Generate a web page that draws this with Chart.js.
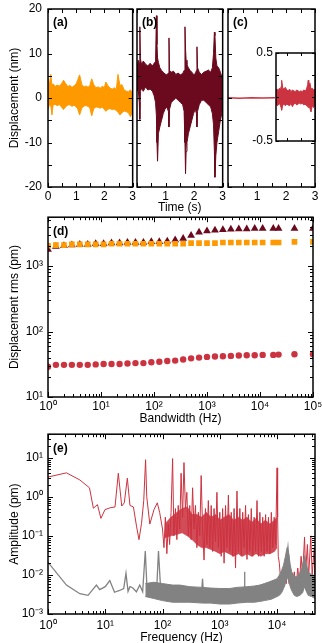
<!DOCTYPE html>
<html><head><meta charset="utf-8">
<script src="https://cdn.jsdelivr.net/npm/chart.js@4.4.1/dist/chart.umd.min.js"></script>
<style>
html,body{margin:0;padding:0;background:#fff;overflow:hidden;width:322px;height:643px;position:relative;}
canvas{position:absolute;display:block;}
</style></head><body>
<canvas id="cA" width="135" height="229" style="left:3px;top:-10px;width:135px;height:229px"></canvas>
<canvas id="cB" width="96" height="229" style="left:132px;top:-10px;width:96px;height:229px"></canvas>
<canvas id="cC" width="99" height="229" style="left:223px;top:-10px;width:99px;height:229px"></canvas>
<canvas id="cI" width="77" height="124" style="left:245px;top:35px;width:77px;height:124px"></canvas>
<canvas id="cD" width="322" height="225" style="left:3px;top:205px;width:322px;height:225px"></canvas>
<canvas id="cE" width="324" height="227" style="left:3px;top:422px;width:324px;height:227px"></canvas>
<script>
// ---------------- data ----------------
const A_TIME  = [0, 0.05, 0.1, 0.14, 0.18, 0.25, 0.32, 0.4, 0.48, 0.55, 0.62, 0.7, 0.78, 0.85, 0.92, 1.0, 1.05, 1.12, 1.2, 1.28, 1.35, 1.42, 1.48, 1.55, 1.62, 1.7, 1.78, 1.85, 1.92, 2.0, 2.05, 2.12, 2.2, 2.28, 2.35, 2.42, 2.48, 2.55, 2.62, 2.7, 2.78, 2.85, 2.92, 2.97, 3.0];
const A_UPPER = [4.5, 3.0, 5.3, 2.8, 3.2, 2.6, 2.9, 2.7, 3.2, 4.0, 3.3, 2.6, 2.8, 2.4, 2.7, 3.2, 4.0, 5.2, 3.0, 2.5, 2.7, 2.4, 2.8, 4.3, 3.0, 2.3, 2.5, 2.2, 2.6, 2.4, 3.6, 2.8, 2.2, 2.0, 2.3, 1.9, 5.3, 2.8, 3.0, 1.8, 1.5, 1.4, 1.8, 1.2, 2.0];
const A_LOWER = [-2.5, -1.5, -1.8, -3.8, -1.6, -1.4, -1.7, -1.5, -2.0, -2.6, -2.0, -1.6, -1.5, -1.9, -1.6, -2.0, -2.4, -3.8, -2.2, -1.8, -1.7, -1.9, -2.2, -4.0, -2.4, -2.0, -2.1, -2.3, -2.0, -2.6, -3.0, -2.5, -2.4, -2.6, -2.5, -2.8, -3.2, -3.8, -3.3, -2.9, -3.1, -3.3, -4.2, -3.5, -3.0];

const B_TIME  = [0, 0.04, 0.08, 0.1, 0.12, 0.16, 0.22, 0.3, 0.38, 0.46, 0.54, 0.6, 0.65, 0.68, 0.7, 0.72, 0.75, 0.8, 0.86, 0.92, 0.98, 1.04, 1.1, 1.12, 1.14, 1.2, 1.28, 1.36, 1.44, 1.52, 1.6, 1.65, 1.68, 1.7, 1.72, 1.75, 1.8, 1.86, 1.92, 1.98, 2.04, 2.08, 2.1, 2.12, 2.18, 2.26, 2.34, 2.42, 2.5, 2.58, 2.64, 2.68, 2.71, 2.73, 2.76, 2.8, 2.86, 2.92, 2.97, 3.0];
const B_UPPER = [6.5, 8.5, 7.8, 16.0, 8.8, 7.5, 8.3, 7.6, 7.2, 7.8, 7.2, 7.8, 8.2, 18.5, 12.0, 9.0, 8.0, 6.8, 6.2, 5.8, 5.4, 5.2, 5.6, 13.5, 6.2, 5.8, 6.0, 5.3, 5.6, 5.2, 5.5, 6.2, 16.0, 11.0, 8.5, 7.5, 6.8, 6.2, 5.8, 5.3, 5.4, 6.2, 11.5, 6.8, 5.8, 5.3, 5.8, 6.0, 6.3, 5.8, 6.8, 10.0, 14.8, 14.0, 9.0, 7.2, 6.8, 5.8, 4.8, 5.0];
const B_LOWER = [1.5, 2.0, -1.0, -4.8, 1.5, 2.2, 1.5, 2.5, 1.8, 2.0, 1.5, 0.5, -1.0, -4.0, -10.0, -14.2, -8.0, -6.5, -5.0, -3.5, -2.5, -2.0, -3.0, -6.5, -2.5, -1.0, -0.5, 0.0, -0.5, -1.0, -1.5, -3.0, -10.0, -17.0, -12.0, -10.0, -8.0, -6.5, -5.0, -3.5, -2.5, -3.5, -6.5, -3.0, -1.5, -0.5, -0.5, -1.0, -1.5, -2.0, -3.5, -6.0, -12.0, -17.8, -13.0, -10.0, -7.5, -5.0, -3.5, -3.0];

const C_TIME  = [0, 0.4, 0.8, 1.2, 1.62];
const C_VALUE = [0.04, -0.03, 0.05, -0.02, 0.03];

const INSET_TIME  = [1.62, 1.66, 1.7, 1.74, 1.78, 1.8, 1.82, 1.86, 1.9, 1.95, 2.0, 2.05, 2.1, 2.15, 2.2, 2.25, 2.3, 2.35, 2.4, 2.45, 2.5, 2.55, 2.6, 2.65, 2.7, 2.74, 2.76, 2.78, 2.82, 2.86, 2.9, 2.95, 3.0];
const INSET_UPPER = [0.08, 0.09, 0.07, 0.1, 0.08, 0.12, 0.19, 0.1, 0.09, 0.11, 0.08, 0.07, 0.09, 0.06, 0.08, 0.07, 0.06, 0.08, 0.07, 0.06, 0.07, 0.06, 0.08, 0.07, 0.09, 0.14, 0.19, 0.13, 0.16, 0.09, 0.1, 0.08, 0.09];
const INSET_LOWER = [-0.08, -0.1, -0.09, -0.07, -0.1, -0.12, -0.15, -0.09, -0.08, -0.1, -0.08, -0.09, -0.1, -0.07, -0.11, -0.08, -0.07, -0.09, -0.08, -0.07, -0.08, -0.07, -0.09, -0.08, -0.1, -0.11, -0.12, -0.1, -0.13, -0.17, -0.1, -0.12, -0.09];

const BANDWIDTH = [1, 1.41, 2, 2.82, 3.98, 5.62, 7.94, 11.2, 15.8, 22.4, 31.6, 44.7, 63.1, 89.1, 126, 178, 251, 355, 501, 708, 1000, 1413, 1995, 2818, 3981, 5623, 7943, 11220, 17800, 22400, 44700, 100000];
const RMS_A = [2050, 2100, 2100, 2150, 2150, 2150, 2150, 2150, 2200, 2200, 2200, 2200, 2200, 2200, 2200, 2200, 2200, 2200, 2250, 2250, 2250, 2250, 2300, 2300, 2300, 2300, 2300, 2300, 2300, 2300, 2350, 2350];
const RMS_B = [1800, 2000, 2050, 2100, 2150, 2150, 2200, 2200, 2250, 2250, 2300, 2300, 2300, 2350, 2350, 2400, 2500, 2650, 2950, 3300, 3450, 3550, 3600, 3650, 3700, 3700, 3750, 3750, 3750, 3750, 3750, 3750];
const RMS_C = [29, 31, 31, 31, 31, 31, 31.5, 32, 32, 32, 32.5, 33, 33, 34, 34.5, 35.5, 36, 37.5, 39, 40, 41, 41.5, 42, 42.5, 43, 43.5, 43.5, 44, 44, 44.5, 45, 45];

const FREQ_RED = [1, 2.1, 3.6, 5.3, 6.2, 7.3, 8.4, 9.9, 12, 14.8, 16.9, 19.4, 21.5, 24.3, 27, 31, 35.3, 38.8, 43, 47, 50.6, 53, 60, 71, 81, 89,
  100, 106, 112, 119, 126, 133, 141, 150, 158, 168, 178, 188, 200, 211, 224, 237, 251, 266, 282, 299,
  316, 335, 355, 376, 398, 422, 447, 473, 501, 531, 562, 596, 631, 668, 708, 750, 794, 841, 891, 944,
  1000, 1059, 1122, 1189, 1259, 1334, 1413, 1496, 1585, 1679, 1778, 1884, 1995, 2113, 2239, 2371, 2512, 2661, 2818, 2985,
  3162, 3350, 3548, 3758, 3981, 4217, 4467, 4732, 5012, 5309, 5623, 5957, 6310, 6683, 7079, 7499, 7943, 8414, 8913, 9441, 10000,
  10230, 10500, 10960, 11500, 12300, 13000, 13490, 14500, 15490, 16200, 17380, 18500, 20000, 21380, 23000, 24500, 26300, 28000, 30200, 31500, 33900, 35500, 38900, 41000, 44700, 46000];
const AMP_RED = [3.2, 4.1, 2.7, 1.7, 0.51, 0.63, 0.28, 0.47, 0.52, 0.55, 4.0, 0.58, 0.7, 3.0, 0.6, 0.55, 0.17, 0.08, 0.21, 0.8, 8.9, 1.0, 0.2, 0.47, 0.7, 0.4,
  0.15, 0.05, 0.3, 0.035, 0.2, 0.06, 0.4, 9.5, 0.1, 0.5, 0.08, 0.6, 0.15, 4.0, 0.3, 7.5, 0.5, 1.3, 0.1, 0.6,
  0.08, 1.7, 0.15, 0.6, 0.05, 0.4, 0.1, 3.5, 0.15, 0.024, 0.5, 0.06, 0.8, 0.05, 0.6, 0.04, 0.5, 0.07, 1.3, 0.05,
  0.4, 0.03, 0.5, 0.02, 0.6, 0.05, 1.1, 0.04, 0.4, 0.03, 0.5, 0.015, 1.4, 0.04, 0.5, 0.03, 0.4, 0.05, 0.6, 0.025,
  0.35, 0.04, 0.5, 0.03, 0.3, 0.04, 0.8, 0.03, 0.4, 0.04, 0.3, 0.03, 0.35, 0.04, 0.3, 0.035, 0.4, 0.05, 0.3, 0.06, 5.5,
  0.3, 0.03, 0.02, 0.008, 0.012, 0.005, 0.008, 0.006, 0.02, 0.006, 0.01, 0.005, 0.012, 0.0045, 0.015, 0.006, 0.03, 0.01, 0.093, 0.012, 0.06, 0.008, 0.1, 0.01, 0.05, 0.004];
const BAND_RED_F  = [110, 140, 180, 220, 270, 330, 400, 480, 580, 700, 850, 1000, 1200, 1450, 1750, 2100, 2500, 3000, 3600, 4300, 5200, 6200, 7500, 9000, 10000];
const BAND_RED_HI = [0.2, 0.3, 0.4, 0.5, 0.55, 0.35, 0.35, 0.3, 0.4, 0.3, 0.35, 0.25, 0.3, 0.35, 0.25, 0.3, 0.25, 0.3, 0.22, 0.28, 0.2, 0.25, 0.2, 0.25, 0.3];
const BAND_RED_LO = [0.09, 0.1, 0.11, 0.12, 0.1, 0.08, 0.06, 0.05, 0.05, 0.045, 0.04, 0.035, 0.04, 0.035, 0.03, 0.035, 0.03, 0.035, 0.03, 0.035, 0.03, 0.035, 0.035, 0.04, 0.05];

const FREQ_GRAY = [1, 2.1, 3.6, 5, 7, 8, 10, 12, 14.5, 17.8, 21, 23, 25, 27, 30, 35, 40, 45, 50, 54, 63, 70, 78, 85, 94, 110, 140, 200, 300, 480, 500, 520, 800, 1200, 2000, 2650, 2700, 2750, 4000, 6000, 9000, 12000, 14000, 15500, 17000, 20000, 25000, 30000, 35000, 42000, 46000];
const AMP_GRAY  = [0.021, 0.0055, 0.0033, 0.003, 0.0055, 0.0042, 0.005, 0.0072, 0.0036, 0.004, 0.0045, 0.011, 0.0038, 0.005, 0.0047, 0.0037, 0.0055, 0.0037, 0.041, 0.0035, 0.003, 0.004, 0.0028, 0.041, 0.003, 0.004, 0.003, 0.0045, 0.0035, 0.0035, 0.008, 0.003, 0.004, 0.0035, 0.003, 0.003, 0.012, 0.003, 0.0035, 0.004, 0.005, 0.008, 0.015, 0.052, 0.01, 0.006, 0.008, 0.028, 0.009, 0.01, 0.007];
const BAND_GRAY_F  = [50, 70, 100, 150, 200, 300, 500, 700, 1000, 1500, 2000, 3000, 4000, 5000, 6000, 7000, 8000, 9000, 10000, 11000, 12000, 13000, 14000, 15000, 16000, 17000, 18000, 20000, 22000, 25000, 28000, 30000, 32000, 35000, 40000, 46000];
const BAND_GRAY_HI = [0.006, 0.0065, 0.006, 0.0055, 0.0055, 0.005, 0.0048, 0.0046, 0.0045, 0.0045, 0.0048, 0.005, 0.0052, 0.0055, 0.006, 0.0065, 0.007, 0.0075, 0.008, 0.01, 0.013, 0.018, 0.03, 0.05, 0.035, 0.018, 0.012, 0.009, 0.009, 0.011, 0.016, 0.028, 0.02, 0.012, 0.01, 0.009];
const BAND_GRAY_LO = [0.0028, 0.0025, 0.0022, 0.002, 0.002, 0.002, 0.0019, 0.0019, 0.0018, 0.0018, 0.0019, 0.002, 0.002, 0.0021, 0.0022, 0.0023, 0.0024, 0.0026, 0.0028, 0.003, 0.0035, 0.0045, 0.006, 0.009, 0.007, 0.005, 0.004, 0.003, 0.0028, 0.003, 0.0035, 0.005, 0.004, 0.003, 0.0028, 0.0025];

// tick labels
const TIME_TICKS_A  = [0, 1, 2, 3];
const TIME_TICKS_BC = [1, 2, 3];
const DISP_TICKS    = [-20, -10, 0, 10, 20];
const INSET_TICKS   = [-0.5, 0.5];
const BW_TICKS      = [1, 10, 100, 1000, 10000, 100000];
const RMS_TICKS     = [10, 100, 1000];
const FREQ_TICKS    = [1, 10, 100, 1000, 10000];
const AMP_TICKS     = [0.001, 0.01, 0.1, 1, 10];

// ---------------- styling ----------------
const ORANGE = '#ff9900', MAROON = '#6b0a1e', RED = '#cc3340', GRAY = '#828282';
Chart.defaults.font.family = "'Liberation Sans', Arial, Helvetica, sans-serif";
Chart.defaults.font.size = 12;
Chart.defaults.color = '#000';

const HALF_S  = [0, 0.5, 1, 1.5, 2, 2.5, 3];
const FIVE_NM = [-20, -15, -10, -5, 0, 5, 10, 15, 20];
function logMinor(d0, d1) { const o = []; for (let d = d0; d < d1; d++) for (let k = 2; k <= 9; k++) o.push(k * Math.pow(10, d)); return o; }

const SUP = {'0':'\u2070','1':'\u00b9','2':'\u00b2','3':'\u00b3','4':'\u2074','5':'\u2075','6':'\u2076','7':'\u2077','8':'\u2078','9':'\u2079','-':'\u207b'};
const supLabel = v => '10' + String(Math.round(Math.log10(v))).split('').map(c => SUP[c]).join('');
const fixWidth = w => s => { s.width = w; };
const fixHeight = h => s => { s.height = h; };
const useTicks = vals => s => { s.ticks = vals.map(v => ({ value: v })); };
const pts = (xs, ys) => xs.map((x, i) => ({ x: x, y: ys[i] }));

function band(xs, hi, lo, line, fillCol, bw) {
  return [
    { data: pts(xs, hi), borderColor: line, backgroundColor: fillCol, borderWidth: bw, pointRadius: 0, fill: '+1', tension: 0 },
    { data: pts(xs, lo), borderColor: line, backgroundColor: fillCol, borderWidth: bw, pointRadius: 0, fill: false, tension: 0 }
  ];
}

const framePlugin = {
  id: 'frame',
  beforeDatasetsDraw(chart, args, o) {
    if (o && o.bg) {
      const a = chart.chartArea, c = chart.ctx;
      c.save(); c.fillStyle = o.bg; c.fillRect(a.left, a.top, a.width, a.height); c.restore();
    }
  },
  afterDraw(chart, args, o) {
    if (!o || !o.on) return;
    const c = chart.ctx, a = chart.chartArea, xs = chart.scales.x, ys = chart.scales.y;
    c.save();
    c.strokeStyle = '#000'; c.lineWidth = 1;
    c.beginPath();
    const hx = (list, len) => (list || []).forEach(v => {
      const p = Math.round(xs.getPixelForValue(v)) + 0.5;
      if (p < a.left - 1 || p > a.right + 1) return;
      c.moveTo(p, a.bottom); c.lineTo(p, a.bottom - len);
      c.moveTo(p, a.top); c.lineTo(p, a.top + len);
    });
    const hy = (list, len) => (list || []).forEach(v => {
      const p = Math.round(ys.getPixelForValue(v)) + 0.5;
      if (p < a.top - 1 || p > a.bottom + 1) return;
      c.moveTo(a.left, p); c.lineTo(a.left + len, p);
      c.moveTo(a.right, p); c.lineTo(a.right - len, p);
    });
    hx(o.xMaj, o.maj); hx(o.xMin, o.min); hy(o.yMaj, o.maj); hy(o.yMin, o.min);
    c.stroke();
    c.lineWidth = 1.5;
    c.strokeRect(a.left, a.top, a.width, a.height);
    if (o.label) {
      c.font = "bold 12px 'Liberation Sans', Arial, sans-serif";
      c.fillStyle = '#000'; c.textBaseline = 'middle'; c.textAlign = 'left';
      c.fillText(o.label, a.left + 5, a.top + 14);
    }
    c.restore();
  }
};
Chart.register(framePlugin);

function baseOpts(pad, frame, scales) {
  return {
    responsive: false, animation: false, events: [], devicePixelRatio: 1,
    layout: { padding: pad },
    plugins: { legend: { display: false }, tooltip: { enabled: false }, frame: Object.assign({ on: true }, frame) },
    scales: scales
  };
}
const noGrid = { grid: { display: false, drawTicks: false }, border: { display: false } };

// ---------------- (a) ----------------
new Chart(document.getElementById('cA'), {
  type: 'line',
  data: { datasets: band(A_TIME, A_UPPER, A_LOWER, ORANGE, ORANGE, 1) },
  options: baseOpts({ top: 19, right: 5, left: 0, bottom: 0 },
    { xMaj: HALF_S, yMaj: FIVE_NM, maj: 4, label: '(a)' },
    {
      x: Object.assign({ type: 'linear', min: 0, max: 3, afterBuildTicks: useTicks(TIME_TICKS_A), afterFit: fixHeight(32), ticks: { padding: 2, maxRotation: 0, autoSkip: false } }, noGrid),
      y: Object.assign({ type: 'linear', min: -20, max: 20, afterBuildTicks: useTicks(DISP_TICKS), afterFit: fixWidth(45), ticks: { padding: 6, autoSkip: false }, title: { display: true, text: 'Displacement (nm)' } }, noGrid)
    })
});

// ---------------- (b) ----------------
new Chart(document.getElementById('cB'), {
  type: 'line',
  data: { datasets: band(B_TIME, B_UPPER, B_LOWER, MAROON, MAROON, 1) },
  options: baseOpts({ top: 19, right: 5, left: 5, bottom: 0 },
    { xMaj: HALF_S, yMaj: FIVE_NM, maj: 4, label: '(b)' },
    {
      x: Object.assign({ type: 'linear', min: 0, max: 3, afterBuildTicks: useTicks(TIME_TICKS_BC), afterFit: fixHeight(32), ticks: { padding: 2, maxRotation: 0, autoSkip: false }, title: { display: true, text: 'Time (s)' } }, noGrid),
      y: { type: 'linear', min: -20, max: 20, display: false }
    })
});

// ---------------- (c) ----------------
new Chart(document.getElementById('cC'), {
  type: 'line',
  data: { datasets: [{ data: pts(C_TIME, C_VALUE), borderColor: RED, borderWidth: 1.5, pointRadius: 0, fill: false, tension: 0 }] },
  options: baseOpts({ top: 19, right: 7, left: 5, bottom: 0 },
    { xMaj: HALF_S, yMaj: FIVE_NM, maj: 4, label: '(c)' },
    {
      x: Object.assign({ type: 'linear', min: 0, max: 3, afterBuildTicks: useTicks(TIME_TICKS_BC), afterFit: fixHeight(32), ticks: { padding: 2, maxRotation: 0, autoSkip: false } }, noGrid),
      y: { type: 'linear', min: -20, max: 20, display: false }
    })
});

// ---------------- inset of (c) ----------------
new Chart(document.getElementById('cI'), {
  type: 'line',
  data: { datasets: band(INSET_TIME, INSET_UPPER, INSET_LOWER, RED, RED, 1) },
  options: baseOpts({ top: 18, right: 7, left: 0, bottom: 18 },
    { xMaj: [2, 2.5], yMaj: [-0.5, -0.25, 0, 0.25, 0.5], maj: 3, bg: '#fff' },
    {
      x: { type: 'linear', min: 1.62, max: 3, display: false },
      y: Object.assign({ type: 'linear', min: -0.5, max: 0.5, afterBuildTicks: useTicks(INSET_TICKS), afterFit: fixWidth(31), ticks: { padding: 3, autoSkip: false } }, noGrid)
    })
});

// ---------------- (d) ----------------
new Chart(document.getElementById('cD'), {
  type: 'scatter',
  data: { datasets: [
    { data: pts(BANDWIDTH, RMS_A), pointStyle: 'rect', pointRadius: 4, backgroundColor: ORANGE, borderColor: ORANGE, borderWidth: 0 },
    { data: pts(BANDWIDTH, RMS_B), pointStyle: 'triangle', pointRadius: 4.5, backgroundColor: MAROON, borderColor: MAROON, borderWidth: 0 },
    { data: pts(BANDWIDTH, RMS_C), pointStyle: 'circle', pointRadius: 3.2, backgroundColor: RED, borderColor: RED, borderWidth: 0 }
  ] },
  options: baseOpts({ top: 12, right: 12, left: 0, bottom: 0 },
    { xMaj: BW_TICKS, xMin: logMinor(0, 5), yMaj: RMS_TICKS, yMin: logMinor(1, 4), maj: 5, min: 3, label: '(d)' },
    {
      x: Object.assign({ type: 'logarithmic', min: 1, max: 100000, afterBuildTicks: useTicks(BW_TICKS), afterFit: fixHeight(33), ticks: { padding: 2, callback: supLabel, maxRotation: 0, autoSkip: false }, title: { display: true, text: 'Bandwidth (Hz)' } }, noGrid),
      y: Object.assign({ type: 'logarithmic', min: 10, max: 5600, afterBuildTicks: useTicks(RMS_TICKS), afterFit: fixWidth(45), ticks: { padding: 5, callback: supLabel, autoSkip: false }, title: { display: true, text: 'Displacement rms (pm)' } }, noGrid)
    })
});

// ---------------- (e) ----------------
const lineDs = (xs, ys, col, w) => ({ data: pts(xs, ys), borderColor: col, borderWidth: w, pointRadius: 0, fill: false, tension: 0 });
new Chart(document.getElementById('cE'), {
  type: 'line',
  data: { datasets: [].concat(
    band(BAND_GRAY_F, BAND_GRAY_HI, BAND_GRAY_LO, GRAY, GRAY, 1),
    [lineDs(FREQ_GRAY, AMP_GRAY, GRAY, 1.3)],
    [lineDs(FREQ_RED, AMP_RED, RED, 1)],
    band(BAND_RED_F, BAND_RED_HI, BAND_RED_LO, 'rgba(204,51,64,0.6)', 'rgba(204,51,64,0.88)', 1)
  ) },
  options: baseOpts({ top: 12, right: 12, left: 0, bottom: 0 },
    { xMaj: FREQ_TICKS, xMin: logMinor(0, 5), yMaj: AMP_TICKS, yMin: logMinor(-3, 2), maj: 5, min: 3, label: '(e)' },
    {
      x: Object.assign({ type: 'logarithmic', min: 1, max: 46000, afterBuildTicks: useTicks(FREQ_TICKS), afterFit: fixHeight(35), ticks: { padding: 4, callback: supLabel, maxRotation: 0, autoSkip: false }, title: { display: true, text: 'Frequency (Hz)' } }, noGrid),
      y: Object.assign({ type: 'logarithmic', min: 0.001, max: 40, afterBuildTicks: useTicks(AMP_TICKS), afterFit: fixWidth(45), ticks: { padding: 5, callback: supLabel, autoSkip: false }, title: { display: true, text: 'Amplitude (pm)' } }, noGrid)
    })
});
</script>
</body></html>
